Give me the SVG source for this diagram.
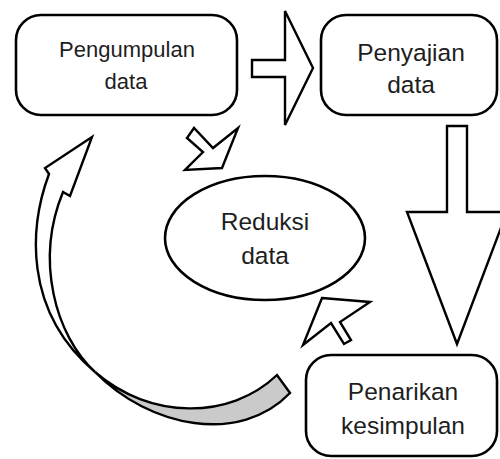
<svg xmlns="http://www.w3.org/2000/svg" width="500" height="459" viewBox="0 0 500 459">
<style>
.box{fill:#fff;stroke:#000;stroke-width:2.6}
.arr{fill:#fff;stroke:#000;stroke-width:2.4;stroke-linejoin:miter}
.gray{fill:#cacaca;stroke:#000;stroke-width:2.4}
text{font-family:"Liberation Sans",Arial,sans-serif;fill:#1e1e1e;text-anchor:middle}
.t22{font-size:22px}
.t24{font-size:24.5px}
</style>
<rect width="500" height="459" fill="#fff"/>
<g id="connectors">
  <polygon class="arr" points="252,60 285,60 285,11 313,68 285,125 285,77 252,77"/>
  <polygon class="arr" points="447,126 467,126 467,212 507,212 457,344 407,212 447,212"/>
  <polygon class="arr" points="194,128 187,138 203,152 185,170 222,168 238,128 213,148"/>
  <polygon class="arr" points="322,298 370,302 340,322 351,340 344,344 331,323 303,345"/>
  <g id="cycle-arrow">
    <path class="gray" d="M95,372 C150,428 240,445 290,393 L277,375 C230,420 150,420 95,372 Z"/>
    <path class="arr" d="M49,174 L45,168 L92,137 L70,196 L63,192 C35,260 55,335 95,372 C22,310 30,225 49,174 Z"/>
  </g>
</g>
<g id="pengumpulan">
  <rect class="box" x="16" y="15" width="221" height="100" rx="25"/>
  <text class="t22" x="127" y="57">Pengumpulan</text>
  <text class="t22" x="126" y="89">data</text>
</g>
<g id="penyajian">
  <rect class="box" x="321" y="15" width="176" height="100" rx="25"/>
  <text class="t24" x="411" y="61">Penyajian</text>
  <text class="t24" x="411" y="93">data</text>
</g>
<g id="reduksi">
  <ellipse class="box" cx="265" cy="238" rx="100" ry="62"/>
  <text class="t24" x="265" y="230">Reduksi</text>
  <text class="t24" x="265" y="264">data</text>
</g>
<g id="penarikan">
  <rect class="box" x="306" y="355" width="191" height="101" rx="25"/>
  <text class="t24" x="403" y="400">Penarikan</text>
  <text class="t24" x="403" y="434">kesimpulan</text>
</g>
</svg>
